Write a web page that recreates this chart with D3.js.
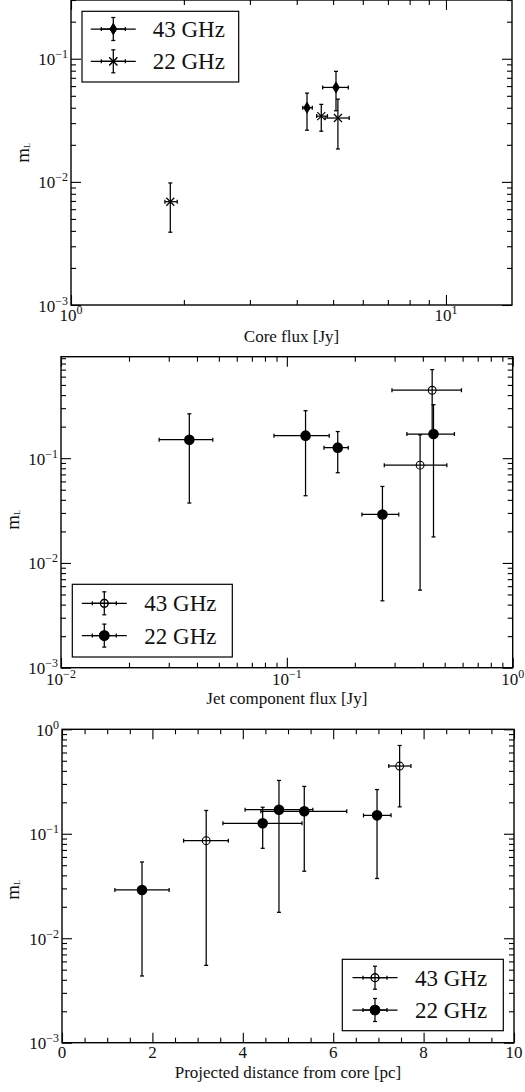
<!DOCTYPE html>
<html><head><meta charset="utf-8">
<script src="https://cdn.jsdelivr.net/npm/d3@7"></script>
<style>html,body{margin:0;padding:0;background:#fff;}svg{display:block;}</style>
</head><body>
<script>
// ---------- DATA ----------
// Panel 1: m_L vs core flux
const core43Flux   = [4.26, 5.09];
const core43FluxLo = [4.15, 4.69];
const core43FluxHi = [4.40, 5.49];
const core43M      = [0.040, 0.0585];
const core43MLo    = [0.0263, 0.0378];
const core43MHi    = [0.0526, 0.079];

const core22Flux   = [1.84, 4.65, 5.15];
const core22FluxLo = [1.78, 4.52, 4.76];
const core22FluxHi = [1.92, 4.83, 5.52];
const core22M      = [0.0069, 0.0342, 0.033];
const core22MLo    = [0.0039, 0.0258, 0.0185];
const core22MHi    = [0.0098, 0.0426, 0.047];

// Panels 2 & 3: jet components
const jet22Flux   = [0.037, 0.121, 0.168, 0.265, 0.446];
const jet22FluxLo = [0.0272, 0.0877, 0.146, 0.215, 0.34];
const jet22FluxHi = [0.047, 0.154, 0.187, 0.313, 0.552];
const jet22Dist   = [6.97, 5.36, 4.44, 1.77, 4.80];
const jet22DistLo = [6.67, 4.40, 3.56, 1.17, 4.05];
const jet22DistHi = [7.28, 6.30, 5.31, 2.37, 5.55];
const jet22M      = [0.150, 0.164, 0.126, 0.029, 0.170];
const jet22MLo    = [0.0373, 0.0438, 0.0726, 0.00435, 0.0177];
const jet22MHi    = [0.265, 0.284, 0.1795, 0.0537, 0.324];

const jet43Flux   = [0.389, 0.44];
const jet43FluxLo = [0.27, 0.292];
const jet43FluxHi = [0.511, 0.593];
const jet43Dist   = [3.19, 7.47];
const jet43DistLo = [2.69, 7.23];
const jet43DistHi = [3.68, 7.72];
const jet43M      = [0.0858, 0.445];
const jet43MLo    = [0.0055, 0.181];
const jet43MHi    = [0.167, 0.70];

const seriesLabels = ["43 GHz", "22 GHz"];
const xLabels = ["Core flux [Jy]", "Jet component flux [Jy]", "Projected distance from core [pc]"];
const distMajorTicks = [0, 2, 4, 6, 8, 10];

// ---------- DRAWING ----------
const W = 525, H = 1092;
const FONT = "'Liberation Serif','Times New Roman',serif";
const INK = "#111";
const svg = d3.select("body").append("svg").attr("width", W).attr("height", H)
  .style("font-family", FONT);

function zip(x, xl, xh, m, ml, mh) {
  return x.map((v, i) => ({x: v, xl: xl[i], xh: xh[i], y: m[i], yl: ml[i], yh: mh[i]}));
}
function logMinors(dom) {
  const out = [];
  const lo = Math.floor(Math.log10(dom[0])), hi = Math.ceil(Math.log10(dom[1]));
  for (let d = lo; d <= hi; d++) for (let k = 2; k <= 9; k++) {
    const v = k * Math.pow(10, d);
    if (v >= dom[0] * 0.9999 && v <= dom[1] * 1.0001) out.push(v);
  }
  return out;
}
function logMajors(dom) {
  const out = [];
  const lo = Math.ceil(Math.log10(dom[0]) - 1e-9), hi = Math.floor(Math.log10(dom[1]) + 1e-9);
  for (let d = lo; d <= hi; d++) out.push(Math.pow(10, d));
  return out;
}
function powLabel(g, v, x, y, anchor, supDy) {
  const e = Math.round(Math.log10(v));
  const t = g.append("text").attr("x", x).attr("y", y).attr("text-anchor", anchor)
    .attr("fill", INK).style("font-size", "17px");
  t.append("tspan").text("10");
  t.append("tspan").attr("dy", supDy).style("font-size", "12px").text(e < 0 ? "\u2212" + (-e) : String(e));
}

function drawMarker(g, type, cx, cy) {
  if (type === "diamond") {
    g.append("path").attr("d", `M${cx},${cy-5.5}L${cx+3.4},${cy}L${cx},${cy+5.5}L${cx-3.4},${cy}Z`)
      .attr("fill", "#000").attr("stroke", "#000").attr("stroke-width", 0.8);
  } else if (type === "cross") {
    const s = 4;
    g.append("path").attr("d", `M${cx-s},${cy-s}L${cx+s},${cy+s}M${cx-s},${cy+s}L${cx+s},${cy-s}`)
      .attr("stroke", "#000").attr("stroke-width", 1.2).attr("fill", "none");
  } else if (type === "filled") {
    g.append("circle").attr("cx", cx).attr("cy", cy).attr("r", 5.3).attr("fill", "#000");
  } else if (type === "open") {
    g.append("circle").attr("cx", cx).attr("cy", cy).attr("r", 3.9)
      .attr("fill", "none").attr("stroke", "#000").attr("stroke-width", 1.1);
  }
}

function errorPoint(g, type, px, py, x0, x1, y0, y1) {
  const cap = 2;
  const st = {stroke: "#000", "stroke-width": 1.25};
  const ln = (a, b, c, d) => { const l = g.append("line").attr("x1", a).attr("y1", b).attr("x2", c).attr("y2", d); for (const k in st) l.attr(k, st[k]); };
  ln(x0, py, x1, py);
  ln(x0, py - cap, x0, py + cap);
  ln(x1, py - cap, x1, py + cap);
  ln(px, y0, px, y1);
  ln(px - cap, y0, px + cap, y0);
  ln(px - cap, y1, px + cap, y1);
  drawMarker(g, type, px, py);
}

function panel(cfg) {
  const g = svg.append("g");
  const x = cfg.xlog ? d3.scaleLog().domain(cfg.xdom).range([cfg.l, cfg.r])
                     : d3.scaleLinear().domain(cfg.xdom).range([cfg.l, cfg.r]);
  const y = d3.scaleLog().domain(cfg.ydom).range([cfg.b, cfg.t]);

  const yMaj = logMajors(cfg.ydom), yMin = logMinors(cfg.ydom);
  const xMaj = cfg.xlog ? logMajors(cfg.xdom) : cfg.xMajors;
  const xMin = cfg.xlog ? logMinors(cfg.xdom) : d3.range(cfg.xdom[0], cfg.xdom[1] + 1e-9, 0.5).filter(v => !xMaj.includes(v));

  const axes = [
    [d3.axisLeft(y), `translate(${cfg.l},0)`, yMaj, yMin],
    [d3.axisRight(y), `translate(${cfg.r},0)`, yMaj, yMin],
    [d3.axisBottom(x), `translate(0,${cfg.b})`, xMaj, xMin],
    [d3.axisTop(x), `translate(0,${cfg.t})`, xMaj, xMin],
  ];
  axes.forEach(([ax, tr, maj, min]) => {
    const a1 = g.append("g").attr("transform", tr).call(ax.tickValues(maj).tickSize(-10).tickFormat(""));
    const a2 = g.append("g").attr("transform", tr).call(ax.tickValues(min).tickSize(-5).tickFormat(""));
    [a1, a2].forEach(a => { a.select(".domain").remove(); a.selectAll("line").attr("stroke", "#000").attr("stroke-width", 1.1); });
  });

  // frame
  g.append("rect").attr("x", cfg.l).attr("y", cfg.t).attr("width", cfg.r - cfg.l).attr("height", cfg.b - cfg.t)
    .attr("fill", "none").attr("stroke", "#000").attr("stroke-width", 1.4);

  // tick labels
  yMaj.forEach(v => powLabel(g, v, cfg.l - 3, y(v) + 6.5, "end", -7));
  if (cfg.xlog) xMaj.forEach(v => powLabel(g, v, x(v), cfg.b + cfg.xLabOff, "middle", -7));
  else xMaj.forEach(v => g.append("text").attr("x", x(v)).attr("y", cfg.b + cfg.xLabOff).attr("text-anchor", "middle")
        .attr("fill", INK).style("font-size", "17px").text(v));

  // axis labels
  g.append("text").attr("x", (cfg.l + cfg.r) / 2).attr("y", cfg.xTitleY).attr("text-anchor", "middle")
    .attr("fill", INK).style("font-size", "17px").text(cfg.xTitle);
  const yl = g.append("text").attr("transform", `translate(${cfg.yTitleX},${cfg.yTitleY}) rotate(-90)`)
    .attr("text-anchor", "middle").attr("fill", INK);
  yl.append("tspan").style("font-size", "19px").text("m");
  yl.append("tspan").attr("dy", 1).style("font-size", "8px").text("L");

  // data
  cfg.series.forEach(s => {
    s.data.forEach(d => errorPoint(g, s.type, x(d.x), y(d.y), x(d.xl), x(d.xh), y(d.yl), y(d.yh)));
  });

  // legend
  const L = cfg.legend;
  g.append("rect").attr("x", L.x).attr("y", L.y).attr("width", L.w).attr("height", L.h)
    .attr("fill", "#fff").attr("stroke", "#000").attr("stroke-width", 1.2);
  cfg.series.forEach((s, i) => {
    const cy = L.y + L.row0 + i * 32.3;
    const mx = L.x + L.mx;
    errorPoint(g, s.type, mx, cy, mx - 12, mx + 12, cy - 11.5, cy + 11.5);
    g.append("line").attr("x1", mx - 22.5).attr("x2", mx + 22.5).attr("y1", cy).attr("y2", cy)
      .attr("stroke", "#000").attr("stroke-width", 1.25);
    drawMarker(g, s.type, mx, cy);
    g.append("text").attr("x", L.x + L.tx).attr("y", cy + 8).attr("fill", INK)
      .style("font-size", "23px").text(s.label);
  });
}

panel({
  l: 71, r: 512, t: 0, b: 305, xlog: true, xdom: [1, 15], ydom: [1e-3, 0.3],
  xLabOff: 16, xTitle: xLabels[0], xTitleY: 342, yTitleX: 28.8, yTitleY: 153,
  legend: {x: 82, y: 11.3, w: 156.7, h: 70.7, row0: 17.7, mx: 31.3, tx: 70.7},
  series: [
    {label: seriesLabels[0], type: "diamond", data: zip(core43Flux, core43FluxLo, core43FluxHi, core43M, core43MLo, core43MHi)},
    {label: seriesLabels[1], type: "cross", data: zip(core22Flux, core22FluxLo, core22FluxHi, core22M, core22MLo, core22MHi)},
  ]
});

panel({
  l: 61, r: 512.7, t: 356.7, b: 667.7, xlog: true, xdom: [0.01, 1], ydom: [1e-3, 0.93],
  xLabOff: 17, xTitle: xLabels[1], xTitleY: 704, yTitleX: 19.2, yTitleY: 520,
  legend: {x: 72.3, y: 584.3, w: 160, h: 72.7, row0: 19, mx: 32, tx: 72},
  series: [
    {label: seriesLabels[0], type: "open", data: zip(jet43Flux, jet43FluxLo, jet43FluxHi, jet43M, jet43MLo, jet43MHi)},
    {label: seriesLabels[1], type: "filled", data: zip(jet22Flux, jet22FluxLo, jet22FluxHi, jet22M, jet22MLo, jet22MHi)},
  ]
});

panel({
  l: 62, r: 514, t: 729.3, b: 1042.7, xlog: false, xdom: [0, 10], xMajors: distMajorTicks, ydom: [1e-3, 1],
  xLabOff: 15.5, xTitle: xLabels[2], xTitleY: 1078, yTitleX: 19.2, yTitleY: 890,
  legend: {x: 342.3, y: 959.3, w: 161, h: 71.4, row0: 18.4, mx: 32.7, tx: 72.7},
  series: [
    {label: seriesLabels[0], type: "open", data: zip(jet43Dist, jet43DistLo, jet43DistHi, jet43M, jet43MLo, jet43MHi)},
    {label: seriesLabels[1], type: "filled", data: zip(jet22Dist, jet22DistLo, jet22DistHi, jet22M, jet22MLo, jet22MHi)},
  ]
});
</script>
</body></html>
